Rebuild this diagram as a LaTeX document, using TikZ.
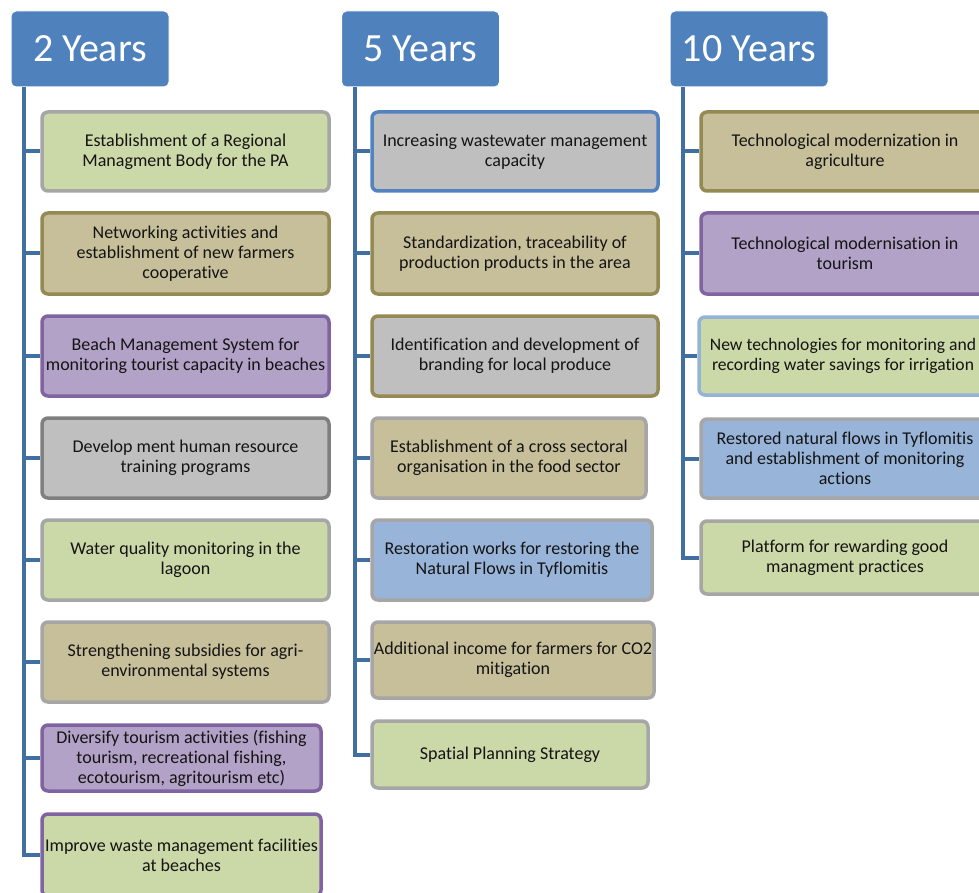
\documentclass[tikz,border=0pt]{standalone}
\usepackage{fontspec}
\setmainfont[Ligatures=NoCommon]{Carlito}
\definecolor{hdrblue}{HTML}{4F81BD}
\definecolor{lineblue}{HTML}{416FA0}
\definecolor{greenF}{HTML}{CBD8A7}
\definecolor{tanF}{HTML}{C6BF9A}
\definecolor{purpleF}{HTML}{B3A2C7}
\definecolor{grayF}{HTML}{BFBFBF}
\definecolor{blueF}{HTML}{98B5D9}
\definecolor{grayB}{HTML}{A6A6A6}
\definecolor{oliveB}{HTML}{948A54}
\definecolor{purpleB}{HTML}{8064A2}
\definecolor{dgrayB}{HTML}{7F7F7F}
\definecolor{blueB}{HTML}{5283C0}
\definecolor{lblueB}{HTML}{95B3D7}
\definecolor{txt}{HTML}{141414}
\begin{document}
\begin{tikzpicture}[x=1pt,y=-1pt,
  hdr/.style={rectangle, rounded corners=5pt, fill=hdrblue, draw=white, line width=1pt,
    text=white, font=\fontsize{40}{44}\selectfont, inner sep=0pt,
    minimum height=76pt, minimum width=158pt},
  pbox/.style={rectangle, rounded corners=6pt, line width=3.5pt, align=center,
    font=\fontsize{18}{20}\selectfont, text=txt, inner sep=0pt},
  conn/.style={draw=lineblue, line width=4pt}]
\useasboundingbox (0,0) rectangle (979,893);
\clip (0,0) rectangle (979,893);
\fill[white] (0,0) rectangle (979,893);

\coordinate (t1) at (24,80);
\coordinate (t2) at (355,80);
\coordinate (t3) at (683,80);

% headers
\node[hdr] (h1) at (90,49) {2 Years};
\node[hdr] (h2) at (420.5,49) {5 Years};
\node[hdr] (h3) at (749,49) {10 Years};

% column 1
\node[pbox, fill=greenF, draw=grayB, minimum width=287pt, minimum height=79pt] (a1) at (185.5,151.5)
  {Establishment of a Regional\\Managment Body for the PA};
\node[pbox, fill=tanF, draw=oliveB, minimum width=287pt, minimum height=81pt] (a2) at (185.5,253.5)
  {Networking activities and\\establishment of new farmers\\cooperative};
\node[pbox, fill=purpleF, draw=purpleB, minimum width=287pt, minimum height=80pt] (a3) at (185.5,356)
  {Beach Management System for\\monitoring tourist capacity in beaches};
\node[pbox, fill=grayF, draw=dgrayB, minimum width=287pt, minimum height=80pt] (a4) at (185.5,458)
  {Develop ment human resource\\training programs};
\node[pbox, fill=greenF, draw=grayB, minimum width=287pt, minimum height=80pt] (a5) at (185.5,560)
  {Water quality monitoring in the\\lagoon};
\node[pbox, fill=tanF, draw=grayB, minimum width=287pt, minimum height=80pt] (a6) at (185.5,662)
  {Strengthening subsidies for agri-\\environmental systems};
\node[pbox, fill=purpleF, draw=purpleB, minimum width=279pt, minimum height=66pt] (a7) at (181.5,758)
  {Diversify tourism activities (fishing\\tourism, recreational fishing,\\ecotourism, agritourism etc)};
\node[pbox, fill=greenF, draw=purpleB, minimum width=279pt, minimum height=82pt] (a8) at (181.5,855)
  {Improve waste management facilities\\at beaches};

% column 2
\node[pbox, fill=grayF, draw=blueB, minimum width=286pt, minimum height=79pt] (b1) at (515,151.5)
  {Increasing wastewater management\\capacity};
\node[pbox, fill=tanF, draw=oliveB, minimum width=286pt, minimum height=81pt] (b2) at (515,253.5)
  {Standardization, traceability of\\production products in the area};
\node[pbox, fill=grayF, draw=oliveB, minimum width=286pt, minimum height=80pt] (b3) at (515,356)
  {Identification and development of\\branding for local produce};
\node[pbox, fill=tanF, draw=grayB, minimum width=274pt, minimum height=80pt] (b4) at (509,458)
  {Establishment of a cross sectoral\\organisation in the food sector};
\node[pbox, fill=blueF, draw=grayB, minimum width=280pt, minimum height=80pt] (b5) at (512,560)
  {Restoration works for restoring the\\Natural Flows in Tyflomitis};
\node[pbox, fill=tanF, draw=grayB, minimum width=282pt, minimum height=76pt] (b6) at (513,660)
  {Additional income for farmers for CO2\\mitigation};
\node[pbox, fill=greenF, draw=grayB, minimum width=276pt, minimum height=67pt] (b7) at (510,754.5)
  {Spatial Planning Strategy};

% column 3
\node[pbox, fill=tanF, draw=oliveB, minimum width=288pt, minimum height=79pt] (c1) at (845,151.5)
  {Technological modernization in\\agriculture};
\node[pbox, fill=purpleF, draw=purpleB, minimum width=288pt, minimum height=81pt] (c2) at (845,253.5)
  {Technological modernisation in\\tourism};
\node[pbox, fill=greenF, draw=lblueB, minimum width=288pt, minimum height=78pt,
  font=\fontsize{17.6}{20}\selectfont] (c3) at (843,356)
  {New technologies for monitoring and\\recording water savings for irrigation};
\node[pbox, fill=blueF, draw=grayB, minimum width=288pt, minimum height=79pt] (c4) at (845,458.5)
  {Restored natural flows in Tyflomitis\\and establishment of monitoring\\actions};
\node[pbox, fill=greenF, draw=grayB, minimum width=288pt, minimum height=73pt] (c5) at (845,557.5)
  {Platform for rewarding good\\managment practices};

% connectors
\draw[conn] (h1.south -| t1) |- (a8.west);
\foreach \n in {a1,a2,a3,a4,a5,a6,a7} \draw[conn] (\n.west -| t1) -- (\n.west);
\draw[conn] (h2.south -| t2) |- (b7.west);
\foreach \n in {b1,b2,b3,b4,b5,b6} \draw[conn] (\n.west -| t2) -- (\n.west);
\draw[conn] (h3.south -| t3) |- (c5.west);
\foreach \n in {c1,c2,c3,c4} \draw[conn] (\n.west -| t3) -- (\n.west);
\end{tikzpicture}
\end{document}
